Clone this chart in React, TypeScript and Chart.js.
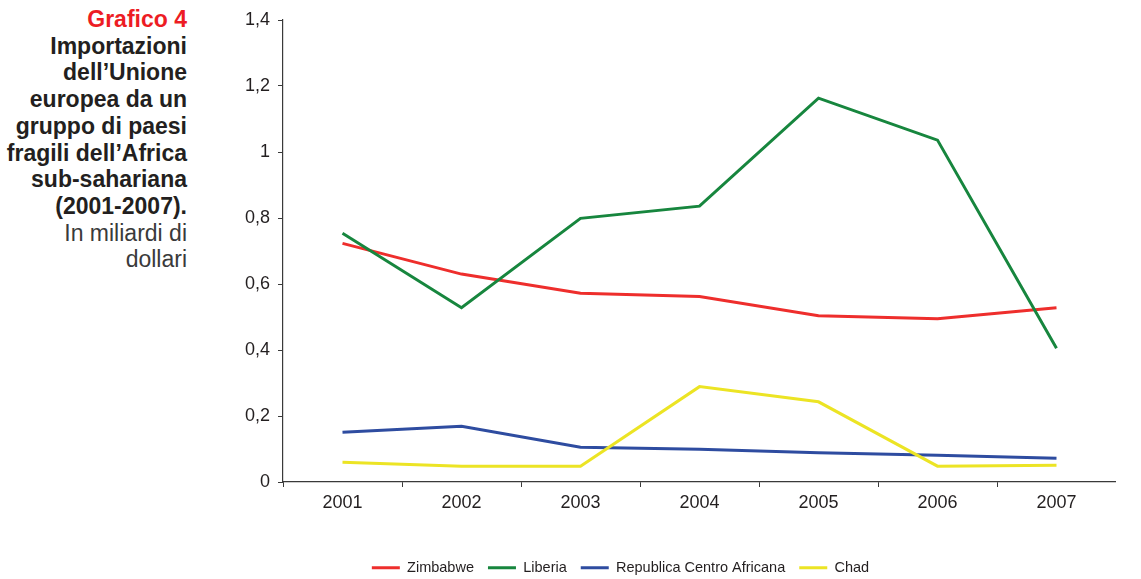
import { useEffect, useRef } from "react";
import { Chart, registerables } from "chart.js";

Chart.register(...registerables);

// Anni sull'asse orizzontale
const years = ["2001", "2002", "2003", "2004", "2005", "2006", "2007"];

// Importazioni UE, miliardi di dollari
const zimbabwe = [0.723, 0.63, 0.572, 0.562, 0.504, 0.495, 0.528];
const liberia = [0.754, 0.528, 0.799, 0.836, 1.163, 1.036, 0.405];
const repCentroAfricana = [0.151, 0.169, 0.105, 0.099, 0.089, 0.081, 0.072];
const chad = [0.06, 0.048, 0.048, 0.289, 0.243, 0.048, 0.051];

const seriesNames = ["Zimbabwe", "Liberia", "Republica Centro Africana", "Chad"];
const seriesColors = ["#ee2e2c", "#17863e", "#2e4ca0", "#ece424"];
// drawing order: lower value ends up on top
const seriesOrder = [3, 1, 4, 2];

const yMin = 0;
const yMax = 1.4;
const yStep = 0.2;

const headline = "Grafico 4";
const titleLines = [
  "Importazioni",
  "dell\u2019Unione",
  "europea da un",
  "gruppo di paesi",
  "fragili dell\u2019Africa",
  "sub-sahariana",
  "(2001-2007).",
];
const unitLines = ["In miliardi di", "dollari"];

const TEXT = "#231f20";
const AXIS = "#3a3a3a";
const FONT = "'Liberation Sans', Arial, Helvetica, sans-serif";

export default function App() {
  const canvasRef = useRef<HTMLCanvasElement>(null);

  useEffect(() => {
    const canvas = canvasRef.current;
    if (!canvas) return;
    const values = [zimbabwe, liberia, repCentroAfricana, chad];
    const chart = new Chart(canvas, {
      type: "line",
      data: {
        labels: years,
        datasets: values.map((data, i) => ({
          label: seriesNames[i],
          data,
          borderColor: seriesColors[i],
          backgroundColor: seriesColors[i],
          borderWidth: 3,
          pointRadius: 0,
          pointHoverRadius: 0,
          tension: 0,
          fill: false,
          order: seriesOrder[i],
        })),
      },
      options: {
        animation: false,
        responsive: false,
        maintainAspectRatio: false,
        events: [],
        layout: { padding: { top: 20, left: 0, right: 0, bottom: 0 } },
        plugins: {
          tooltip: { enabled: false },
          legend: {
            position: "bottom",
            labels: {
              usePointStyle: true,
              pointStyle: "line",
              pointStyleWidth: 28,
              padding: 14,
              color: TEXT,
              font: { family: FONT, size: 14.5 },
              sort: (a: any, b: any) => a.datasetIndex - b.datasetIndex,
            },
          },
        },
        scales: {
          x: {
            type: "category",
            offset: true,
            grid: {
              offset: true,
              drawOnChartArea: false,
              drawTicks: true,
              tickLength: 5,
              color: AXIS,
              lineWidth: 1,
            },
            border: { color: AXIS, width: 1.2 },
            ticks: {
              color: TEXT,
              font: { family: FONT, size: 18 },
              padding: 5,
              maxRotation: 0,
              autoSkip: false,
            },
            afterFit: (scale: any) => {
              scale.height = 64.5;
            },
          },
          y: {
            min: yMin,
            max: yMax,
            grid: {
              drawOnChartArea: false,
              drawTicks: true,
              tickLength: 5,
              color: AXIS,
              lineWidth: 1,
            },
            border: { color: AXIS, width: 1.2 },
            ticks: {
              stepSize: yStep,
              color: TEXT,
              font: { family: FONT, size: 18 },
              padding: 8,
              callback: (v: any) => String(Math.round(Number(v) * 10) / 10).replace(".", ","),
            },
            afterFit: (scale: any) => {
              scale.width = 158;
            },
          },
        },
      },
    });
    return () => chart.destroy();
  }, []);

  return (
    <div
      style={{
        position: "absolute",
        left: 0,
        top: 0,
        width: 1141,
        height: 579,
        overflow: "hidden",
        background: "#ffffff",
      }}
    >
      <div
        style={{
          position: "absolute",
          left: 0,
          top: 6,
          width: 187,
          textAlign: "right",
          fontFamily: FONT,
          fontSize: 23,
          lineHeight: "26.7px",
          color: TEXT,
        }}
      >
        <div style={{ color: "#ed1c24", fontWeight: "bold" }}>{headline}</div>
        {titleLines.map((t) => (
          <div key={t} style={{ fontWeight: "bold" }}>
            {t}
          </div>
        ))}
        {unitLines.map((t) => (
          <div key={t} style={{ fontWeight: "normal", color: "#3a3a3a" }}>
            {t}
          </div>
        ))}
      </div>
      <canvas
        ref={canvasRef}
        width={991}
        height={585}
        style={{ position: "absolute", left: 125, top: 0, width: 991, height: 585 }}
      />
    </div>
  );
}
